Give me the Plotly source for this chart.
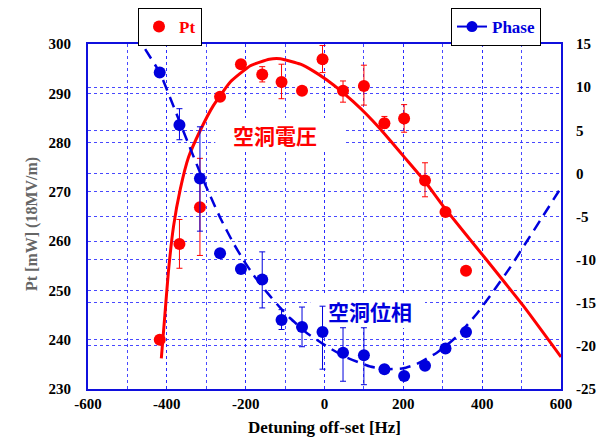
import plotly.graph_objects as go

# ---------------- data ----------------
detuning = [-418, -368, -316, -265, -212, -158, -109, -57, -5, 47, 100, 152, 202, 255, 307, 359]
pt_values = [240.0, 259.4, 266.9, 289.3, 295.9, 293.8, 292.3, 290.5, 296.9, 290.5, 291.5, 283.9, 284.9, 272.3, 265.9, 254.0]
pt_err_plus = [0, 5.0, 9.9, 0, 0, 1.6, 3.6, 0, 2.8, 2.0, 4.2, 1.4, 2.8, 3.6, 0, 0]
pt_err_minus = [0, 4.9, 9.8, 0, 0, 1.5, 3.4, 0, 2.7, 2.3, 3.9, 1.0, 2.8, 3.3, 0, 0]

phase_values = [11.7, 5.6, -0.6, -9.25, -11.1, -12.3, -17.0, -17.8, -18.4, -20.8, -21.1, -22.7, -23.5, -22.3, -20.3, -18.4]
phase_err_plus = [0, 1.9, 6.0, 0, 0, 3.2, 1.2, 2.3, 3.0, 2.9, 3.2, 0, 0, 0, 0, 0]
phase_err_minus = [0, 1.7, 6.1, 0, 0, 3.3, 1.1, 2.3, 4.3, 3.3, 3.4, 0, 0, 0, 0, 0]

pt_fit_x = [-414, -405, -396, -383, -366, -345, -315, -282, -239, -188, -140, -112, -61, -28,
            6, 40, 73, 107, 141, 170, 203, 255, 306, 403, 505, 600]
pt_fit_y = [236.2, 245.0, 253.8, 263.0, 270.5, 277.0, 282.5, 287.5, 292.3, 295.6, 296.9, 297.0, 295.9, 294.5,
            292.7, 290.6, 288.3, 285.7, 282.8, 280.1, 277.0, 272.1, 266.6, 257.0, 246.8, 236.5]

phase_fit_x = [-455, -417, -366, -315, -289, -264, -231, -205, -180, -146, -112, -87, -45, -3, 49, 116, 160, 200,
               234, 285, 336, 386, 428, 471, 513, 555, 598]
phase_fit_y = [14.4, 11.6, 5.8, 0.0, -2.7, -5.2, -8.1, -10.1, -11.8, -13.8, -15.6, -16.8, -18.5, -19.8, -21.2, -22.4,
               -22.7, -22.6, -22.1, -20.8, -18.9, -16.3, -13.7, -10.9, -7.9, -4.9, -1.8]

x_ticks = [-600, -400, -200, 0, 200, 400, 600]
x_ticktext = ["-600", "-400", "-200", "0", "200", "400", "600"]
y_ticks = [230, 240, 250, 260, 270, 280, 290, 300]
y2_ticks = [-25, -20, -15, -10, -5, 0, 5, 10, 15]
y2_ticktext = ["-25", "-20", "-15", "-10", "-5", "0", "5", "10", "15"]

RED = "#ff0000"
BLUE = "#0000dd"
GRID = "rgba(40,40,255,0.85)"
FONT = "Liberation Serif"

fig = go.Figure()

# Fit curves
fig.add_trace(go.Scatter(x=pt_fit_x, y=pt_fit_y, mode="lines",
                         line=dict(color=RED, width=3, shape="spline", smoothing=0.4),
                         showlegend=False, hoverinfo="skip"))
fig.add_trace(go.Scatter(x=phase_fit_x, y=phase_fit_y, yaxis="y2", mode="lines",
                         line=dict(color=BLUE, width=2.5, dash="11px,7px", shape="spline", smoothing=0.4),
                         showlegend=False, hoverinfo="skip"))

# Phase data points
fig.add_trace(go.Scatter(x=detuning, y=phase_values, yaxis="y2", mode="markers",
                         marker=dict(color=BLUE, size=12),
                         error_y=dict(type="data", array=phase_err_plus, arrayminus=phase_err_minus,
                                      color=BLUE, thickness=1, width=3),
                         showlegend=False))
# Pt data points
fig.add_trace(go.Scatter(x=detuning, y=pt_values, mode="markers", name="Pt", legend="legend",
                         marker=dict(color=RED, size=12),
                         error_y=dict(type="data", array=pt_err_plus, arrayminus=pt_err_minus,
                                      color=RED, thickness=1, width=3)))
# Phase legend entry
fig.add_trace(go.Scatter(x=[None], y=[None], yaxis="y2", mode="lines+markers", name="Phase", legend="legend2",
                         marker=dict(color=BLUE, size=11), line=dict(color=BLUE, width=2)))

axis_font = dict(family=FONT, size=15, color="black", weight="bold")

fig.update_layout(
    width=601, height=439,
    margin=dict(l=88, r=40, t=44, b=50, autoexpand=False),
    paper_bgcolor="white", plot_bgcolor="white",
    font=dict(family=FONT),
    xaxis=dict(range=[-600, 600], tickmode="array", tickvals=x_ticks, ticktext=x_ticktext,
               tickfont=axis_font, ticks="", ticklabelstandoff=0,
               showgrid=True, gridcolor=GRID, griddash="dot", gridwidth=1,
               minor=dict(tickmode="linear", tick0=0, dtick=100, showgrid=True, gridcolor=GRID,
                          griddash="dot", gridwidth=1),
               showline=True, linecolor="#1010dd", linewidth=2, mirror=True, zeroline=False,
               title=dict(text="Detuning off-set [Hz]", font=dict(family=FONT, size=17, color="black", weight="bold"),
                          standoff=10),
               automargin=False),
    yaxis=dict(range=[230, 300], tickmode="array", tickvals=y_ticks, tickfont=axis_font, ticks="",
               ticklabelstandoff=12,
               showgrid=True, gridcolor=GRID, griddash="dot", gridwidth=1,
               showline=True, linecolor="#1010dd", linewidth=2, mirror=False, zeroline=False,
               automargin=False),
    yaxis2=dict(range=[-25, 15], overlaying="y", side="right", tickmode="array", tickvals=y2_ticks,
                ticktext=y2_ticktext, tickfont=axis_font, ticks="", ticklabelstandoff=10,
                showgrid=True, gridcolor=GRID, griddash="dot", gridwidth=1,
                showline=True, linecolor="#1010dd", linewidth=2, zeroline=False, automargin=False),
    legend=dict(xref="container", yref="container", x=138 / 601, y=1 - 8 / 439, xanchor="left", yanchor="top",
                bgcolor="white", bordercolor="black", borderwidth=1,
                font=dict(family=FONT, size=17, color=RED, weight="bold"), itemwidth=30),
    legend2=dict(xref="container", yref="container", x=451 / 601, y=1 - 8 / 439, xanchor="left", yanchor="top",
                 bgcolor="white", bordercolor="black", borderwidth=1,
                 font=dict(family=FONT, size=17, color=BLUE, weight="bold"), itemwidth=30),
    shapes=[
        dict(type="rect", xref="x", yref="y", x0=-277, x1=47, y0=278.1, y1=285.0,
             fillcolor="white", line=dict(width=0), layer="between"),
        dict(type="rect", xref="x", yref="y", x0=-36, x1=255, y0=242.4, y1=249.3,
             fillcolor="white", line=dict(width=0), layer="between"),
    ],
    annotations=[
        dict(text="<b>空洞電圧</b>", xref="x", yref="y", x=-125, y=281.5,
             showarrow=False, font=dict(family="Noto Sans CJK JP", size=21, color=RED)),
        dict(text="<b>空洞位相</b>", xref="x", yref="y", x=116, y=245.8,
             showarrow=False, font=dict(family="Noto Sans CJK JP", size=21, color=BLUE)),
        dict(text="<b>Pt [mW] (18MV/m)</b>", xref="paper", yref="paper", x=(21 - 88) / 473, y=(389 - 224) / 345,
             textangle=-90, showarrow=False, font=dict(family=FONT, size=16, color="#666666")),
    ],
)

fig.write_html("out.html")
